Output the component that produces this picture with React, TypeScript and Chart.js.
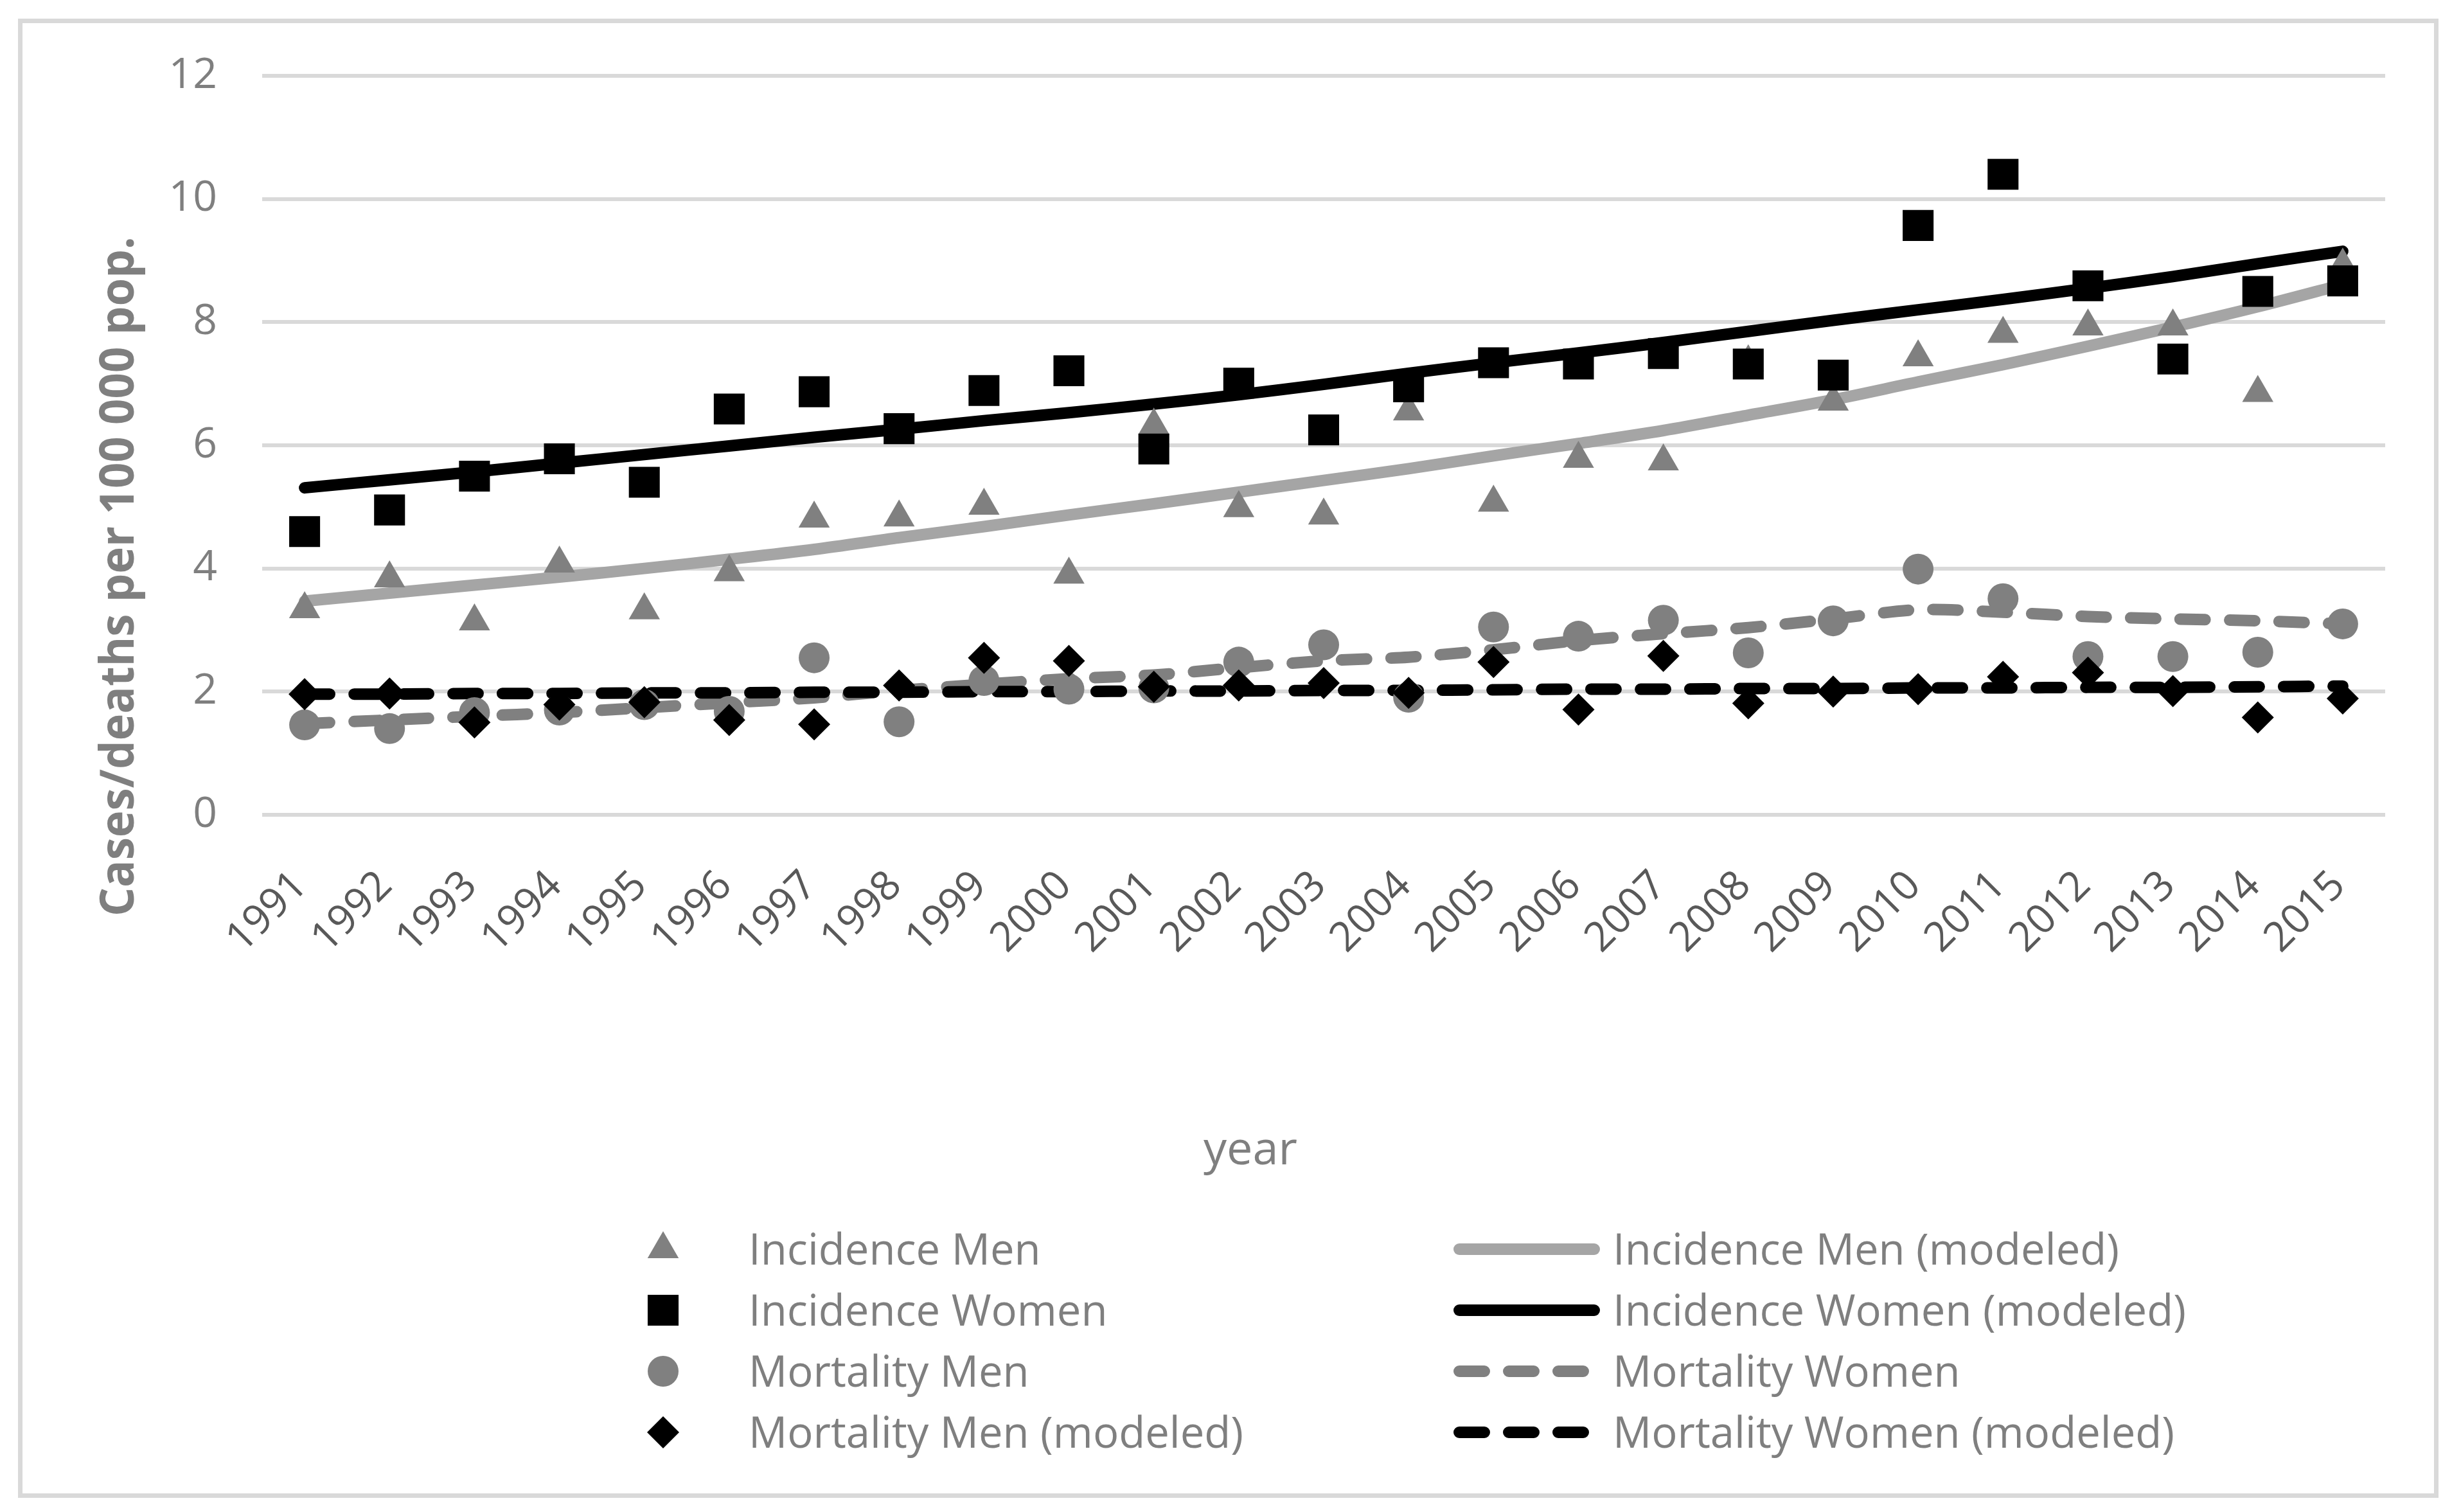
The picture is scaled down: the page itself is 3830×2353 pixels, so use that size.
import { useEffect, useRef } from "react";
import { Chart, registerables } from "chart.js";
import { drawPoint } from "chart.js/helpers";

Chart.register(...registerables);

const W = 3830;
const H = 2353;

const years = [
  "1991", "1992", "1993", "1994", "1995", "1996", "1997", "1998", "1999", "2000",
  "2001", "2002", "2003", "2004", "2005", "2006", "2007", "2008", "2009", "2010",
  "2011", "2012", "2013", "2014", "2015",
];

const incidenceMen = [3.34, 3.84, 3.14, 4.08, 3.32, 3.94, 4.81, 4.83, 5.02, 3.9, 6.32, 4.98, 4.86, 6.55, 5.07, 5.78, 5.74, 7.35, 6.71, 7.43, 7.81, 7.93, 7.93, 6.85, 8.92];
const incidenceWomen = [4.6, 4.95, 5.5, 5.78, 5.4, 6.59, 6.87, 6.27, 6.89, 7.21, 5.94, 7.01, 6.25, 6.95, 7.34, 7.32, 7.49, 7.32, 7.14, 9.57, 10.4, 8.59, 7.4, 8.5, 8.67];
const mortalityMen = [1.46, 1.4, 1.66, 1.7, 1.79, 1.68, 2.55, 1.51, 2.18, 2.04, 2.06, 2.48, 2.76, 1.91, 3.05, 2.9, 3.16, 2.63, 3.15, 3.99, 3.51, 2.57, 2.57, 2.64, 3.1];
const mortalityMenModeled = [1.96, 1.97, 1.5, 1.79, 1.83, 1.54, 1.47, 2.1, 2.55, 2.5, 2.08, 2.1, 2.14, 1.98, 2.48, 1.71, 2.58, 1.81, 2.0, 2.04, 2.24, 2.31, 2.01, 1.58, 1.89];
const incidenceMenModeled = [3.47, 3.6, 3.73, 3.86, 4.0, 4.15, 4.31, 4.5, 4.68, 4.87, 5.05, 5.24, 5.43, 5.62, 5.83, 6.03, 6.24, 6.49, 6.74, 7.03, 7.31, 7.61, 7.92, 8.25, 8.61];
const incidenceWomenModeled = [5.31, 5.44, 5.57, 5.71, 5.85, 5.99, 6.13, 6.26, 6.4, 6.53, 6.67, 6.82, 6.99, 7.17, 7.34, 7.5, 7.67, 7.85, 8.03, 8.2, 8.37, 8.55, 8.74, 8.95, 9.15];
const mortalityWomen = [1.48, 1.54, 1.6, 1.66, 1.74, 1.82, 1.9, 2.02, 2.12, 2.21, 2.27, 2.39, 2.5, 2.56, 2.68, 2.83, 2.94, 3.04, 3.18, 3.33, 3.29, 3.22, 3.18, 3.15, 3.1];
const mortalityWomenModeled = [1.96, 1.96, 1.97, 1.97, 1.98, 1.98, 1.99, 1.99, 2.0, 2.0, 2.01, 2.01, 2.02, 2.02, 2.03, 2.04, 2.04, 2.05, 2.05, 2.06, 2.06, 2.07, 2.07, 2.08, 2.09];

const yTicks = [0, 2, 4, 6, 8, 10, 12];

const yTitle = "Cases/deaths per 100 000 pop.";
const xTitle = "year";

const FONT = "'Open Sans', sans-serif";
const GRAY = "#808080";
const LIGHT = "#a5a5a5";
const TEXT = "#7f7f7f";

const markerDs = (label: string, data: number[], style: string, color: string, radius: number, order: number) => ({
  label,
  data,
  showLine: false,
  pointStyle: style,
  pointRadius: radius,
  pointHoverRadius: radius,
  pointBackgroundColor: color,
  pointBorderColor: color,
  pointBorderWidth: 0,
  borderColor: color,
  backgroundColor: color,
  order,
});

const lineDs = (label: string, data: number[], color: string, dash: number[], order: number) => ({
  label,
  data,
  borderColor: color,
  backgroundColor: color,
  borderWidth: 18,
  borderDash: dash,
  borderCapStyle: "round",
  borderJoinStyle: "round",
  pointRadius: 0,
  pointHoverRadius: 0,
  tension: 0.3,
  fill: false,
  order,
});

const bgPlugin = {
  id: "bgBorder",
  beforeDraw(chart: any) {
    const ctx = chart.ctx;
    ctx.save();
    ctx.fillStyle = "#ffffff";
    ctx.fillRect(0, 0, W, H);
    ctx.strokeStyle = "#d9d9d9";
    ctx.lineWidth = 7;
    ctx.strokeRect(31.5, 32.5, 3760, 2295);
    ctx.restore();
  },
};

const decorPlugin = {
  id: "decor",
  afterDraw(chart: any) {
    const ctx = chart.ctx;
    ctx.save();
    ctx.fillStyle = TEXT;
    ctx.font = `bold 74px ${FONT}`;
    ctx.textAlign = "center";
    ctx.textBaseline = "alphabetic";
    ctx.translate(208, 897);
    ctx.rotate(-Math.PI / 2);
    ctx.fillText(yTitle, 0, 0, 1058);
    ctx.restore();

    ctx.save();
    ctx.fillStyle = TEXT;
    ctx.font = `72px ${FONT}`;
    ctx.textAlign = "center";
    ctx.textBaseline = "alphabetic";
    ctx.fillText(xTitle, 1946, 1812);
    ctx.restore();

    const rows = [1944, 2039, 2134, 2229];
    const datasets = chart.data.datasets;
    datasets.forEach((ds: any, i: number) => {
      const col = i < 4 ? 0 : 1;
      const y = rows[i % 4];
      ctx.save();
      if (col === 0) {
        ctx.fillStyle = ds.pointBackgroundColor;
        ctx.strokeStyle = ds.pointBorderColor;
        drawPoint(ctx, { pointStyle: ds.pointStyle, radius: ds.pointRadius, rotation: 0, borderWidth: 0 } as any, 1032, y);
      } else {
        ctx.strokeStyle = ds.borderColor;
        ctx.lineWidth = ds.borderWidth;
        ctx.lineCap = "round";
        ctx.setLineDash(ds.borderDash || []);
        ctx.beginPath();
        ctx.moveTo(2271, y);
        ctx.lineTo(2481, y);
        ctx.stroke();
      }
      ctx.restore();
      ctx.save();
      ctx.fillStyle = TEXT;
      ctx.font = `67px ${FONT}`;
      ctx.textAlign = "left";
      ctx.textBaseline = "alphabetic";
      ctx.fillText(ds.label, col === 0 ? 1165 : 2510, y + 24);
      ctx.restore();
    });
  },
};

export default function App() {
  const ref = useRef<HTMLCanvasElement>(null);
  useEffect(() => {
    const canvas = ref.current!;
    const chart = new Chart(canvas, {
      type: "line",
      data: {
        labels: years,
        datasets: [
          markerDs("Incidence Men", incidenceMen, "triangle", GRAY, 28, 3),
          markerDs("Incidence Women", incidenceWomen, "rect", "#000000", 34, 2),
          markerDs("Mortality Men", mortalityMen, "circle", GRAY, 24, 1),
          markerDs("Mortality Men (modeled)", mortalityMenModeled, "rectRot", "#000000", 25, 0),
          lineDs("Incidence Men (modeled)", incidenceMenModeled, LIGHT, [], 7),
          lineDs("Incidence Women (modeled)", incidenceWomenModeled, "#000000", [], 6),
          lineDs("Mortality Women", mortalityWomen, GRAY, [39, 38], 5),
          lineDs("Mortality Women (modeled)", mortalityWomenModeled, "#000000", [39, 38], 4),
        ] as any,
      },
      options: {
        animation: false,
        responsive: false,
        devicePixelRatio: 1,
        events: [],
        layout: { padding: { left: 0, top: 118, right: 118, bottom: 0 } },
        plugins: {
          legend: { display: false },
          tooltip: { enabled: false },
          title: { display: false },
        },
        scales: {
          x: {
            type: "category",
            offset: true,
            grid: { display: false },
            border: { display: false },
            ticks: {
              autoSkip: false,
              minRotation: 45,
              maxRotation: 45,
              padding: 65,
              labelOffset: -6,
              color: "#595959",
              font: { family: FONT, size: 64 },
            },
            afterFit: (scale: any) => {
              scale.height = H - 1268;
            },
          },
          y: {
            min: yTicks[0],
            max: yTicks[yTicks.length - 1],
            border: { display: false },
            grid: { color: "#d9d9d9", lineWidth: 6, drawTicks: false },
            ticks: {
              stepSize: 2,
              padding: 70,
              color: TEXT,
              font: { family: FONT, size: 66 },
            },
            afterFit: (scale: any) => {
              scale.width = 408;
            },
          },
        },
      },
      plugins: [bgPlugin, decorPlugin],
    });
    return () => chart.destroy();
  }, []);
  return (
    <div style={{ position: "fixed", left: 0, top: 0, width: W, height: H, background: "#fff" }}>
      <canvas ref={ref} width={W} height={H} style={{ width: W, height: H, display: "block" }} />
    </div>
  );
}
